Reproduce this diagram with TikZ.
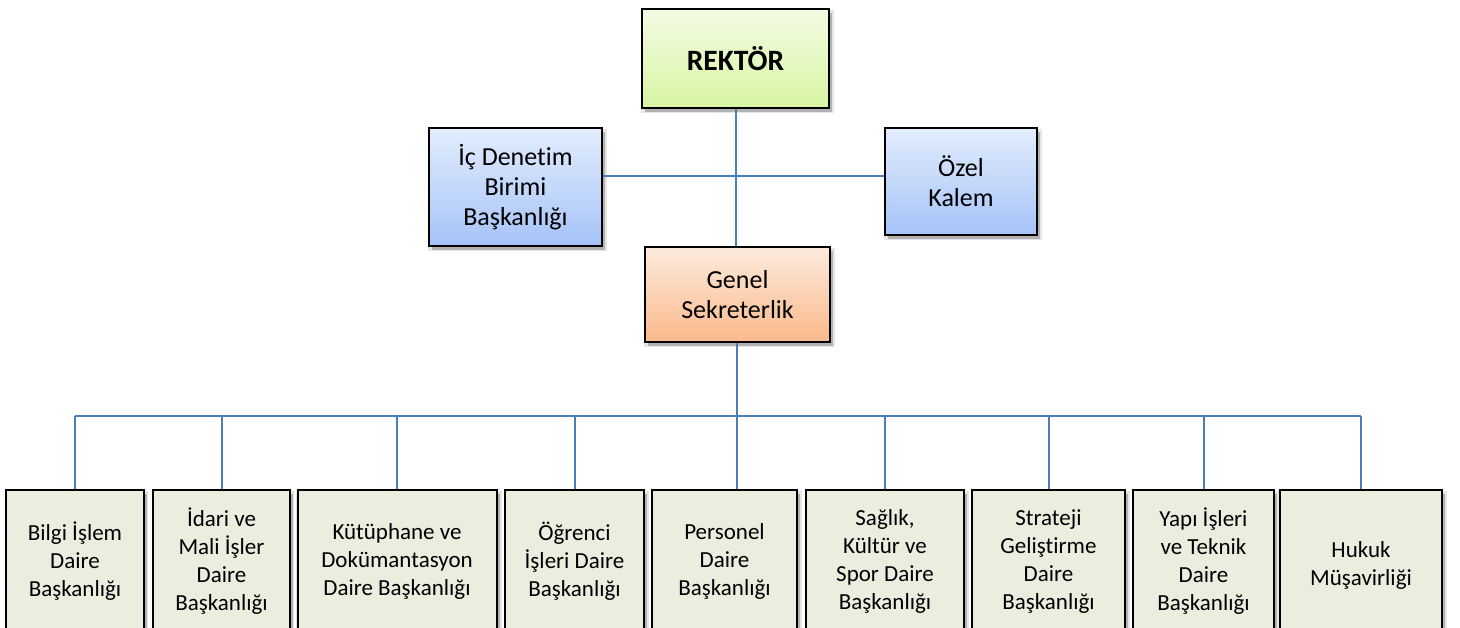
\documentclass[tikz,border=0pt]{standalone}
\usepackage{fontspec}
\setmainfont{Carlito}[Ligatures=NoCommon]
\usetikzlibrary{shadows}
\definecolor{linec}{HTML}{4A7EBB}
\definecolor{greentop}{HTML}{F3FCE3}
\definecolor{greenbot}{HTML}{D7F5A3}
\definecolor{bluetop}{HTML}{E3EDFD}
\definecolor{bluebot}{HTML}{A5C3F8}
\definecolor{orangetop}{HTML}{FDEBDD}
\definecolor{orangebot}{HTML}{FAB98B}
\definecolor{unitfill}{HTML}{EBEEDE}
\begin{document}
\begin{tikzpicture}[x=1pt,y=-1pt,
  box/.style={draw=black, line width=2pt, rectangle, inner sep=0pt, align=center,
    font=\fontsize{26}{30}\selectfont,
    general shadow={fill=black, opacity=0.10, shadow xshift=2pt, shadow yshift=-3pt, shadow scale=1.035},
    general shadow={fill=black, opacity=0.22, shadow xshift=3pt, shadow yshift=-4pt}},
  greenbox/.style={box, top color=greentop, bottom color=greenbot},
  bluebox/.style={box, top color=bluetop, bottom color=bluebot},
  orangebox/.style={box, top color=orangetop, bottom color=orangebot},
  unitbox/.style={box, fill=unitfill, minimum height=143pt, font=\fontsize{23}{28}\selectfont},
  conn/.style={draw=linec, line width=2pt}]
\useasboundingbox (0,0) rectangle (1460,627);
\clip (0,0) rectangle (1460,627);
\fill[white] (0,0) rectangle (1460,627);

% top level
\node[greenbox, minimum width=187pt, minimum height=99pt, font=\fontsize{29.5}{34}\selectfont\bfseries] (rek) at (735.5,58.5) {REKTÖR};
\node[bluebox, minimum width=173pt, minimum height=118pt] (ic) at (515.5,187) {İç Denetim\\Birimi\\Başkanlığı};
\node[bluebox, minimum width=152pt, minimum height=107pt] (ozel) at (961,181.5) {Özel\\Kalem};
\node[orangebox, minimum width=185pt, minimum height=95pt] (gen) at (737.5,294.5) {Genel\\Sekreterlik};

% units
\node[unitbox, minimum width=138pt] (b1) at (75,561.5) {Bilgi İşlem\\Daire\\Başkanlığı};
\node[unitbox, minimum width=137pt] (b2) at (221.5,561.5) {İdari ve\\Mali İşler\\Daire\\Başkanlığı};
\node[unitbox, minimum width=199pt] (b3) at (397,561.5) {Kütüphane ve\\Dokümantasyon\\Daire Başkanlığı};
\node[unitbox, minimum width=139pt] (b4) at (574.5,561.5) {Öğrenci\\İşleri Daire\\Başkanlığı};
\node[unitbox, minimum width=145pt] (b5) at (724.5,561.5) {Personel\\Daire\\Başkanlığı};
\node[unitbox, minimum width=158pt] (b6) at (885,561.5) {Sağlık,\\Kültür ve\\Spor Daire\\Başkanlığı};
\node[unitbox, minimum width=153pt] (b7) at (1048.5,561.5) {Strateji\\Geliştirme\\Daire\\Başkanlığı};
\node[unitbox, minimum width=141pt] (b8) at (1203.5,561.5) {Yapı İşleri\\ve Teknik\\Daire\\Başkanlığı};
\node[unitbox, minimum width=162pt] (b9) at (1361,561.5) {\\[-4pt]Hukuk\\Müşavirliği};

% connectors
\coordinate (hy) at (736,176);
\coordinate (bus) at (737,416);
\draw[conn] (rek.south -| hy) -- (gen.north -| hy);
\draw[conn] (ic.east |- hy) -- (ozel.west |- hy);
\draw[conn] (gen.south -| bus) -- (bus);
\draw[conn] (b1.north |- bus) -- (b9.north |- bus);
\foreach \b in {b1,b2,b3,b4,b6,b7,b8,b9}{
  \draw[conn] (\b.north |- bus) -- (\b.north);
}
\draw[conn] (bus) -- (b5.north -| bus);
\end{tikzpicture}
\end{document}
